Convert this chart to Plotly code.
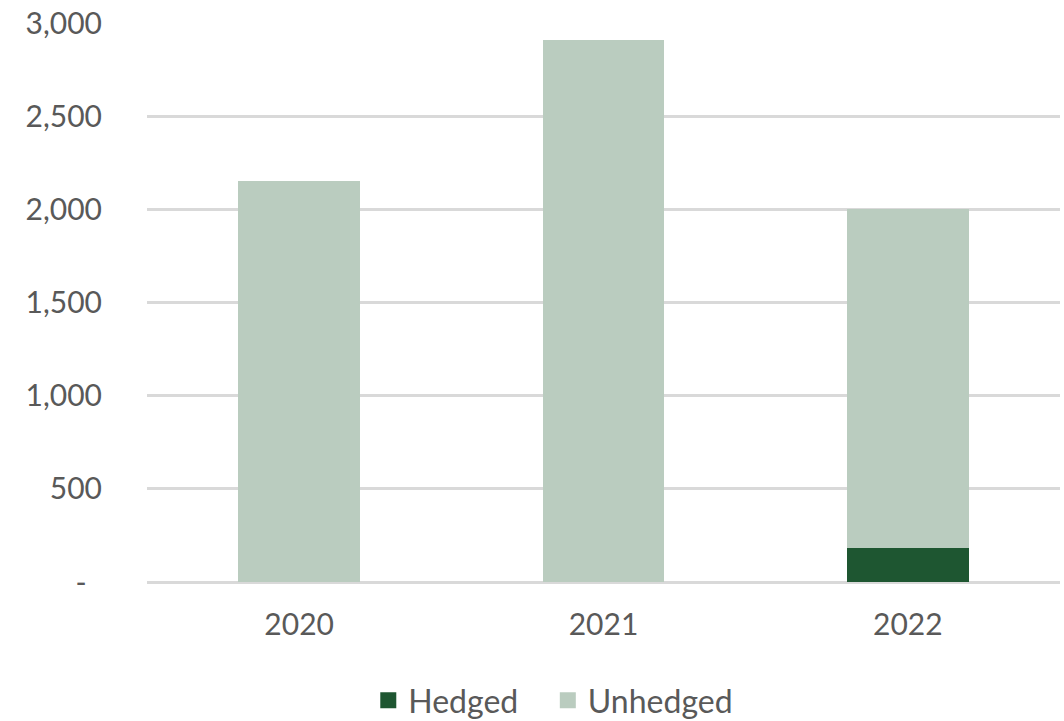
import plotly.graph_objects as go

years = ["2020", "2021", "2022"]
hedged = [0, 0, 180]
unhedged = [2150, 2910, 1820]
tick_vals = [0, 500, 1000, 1500, 2000, 2500, 3000]
tick_text = ["-\u00a0\u00a0", "500", "1,000", "1,500", "2,000", "2,500", "3,000"]

font_color = "#595959"
c_hedged = "#1E5631"
c_unhedged = "#BACCBF"

fig = go.Figure()
fig.add_trace(go.Bar(name="Hedged", x=years, y=hedged, marker_color=c_hedged,
                     marker_line_width=0, showlegend=False))
fig.add_trace(go.Bar(name="Unhedged", x=years, y=unhedged, marker_color=c_unhedged,
                     marker_line_width=0, showlegend=False))
# legend entries with larger square symbols
fig.add_trace(go.Scatter(name="Hedged\u00a0\u00a0\u00a0", x=[None], y=[None], mode="markers",
                         marker=dict(symbol="square", size=17, color=c_hedged)))
fig.add_trace(go.Scatter(name="Unhedged", x=[None], y=[None], mode="markers",
                         marker=dict(symbol="square", size=17, color=c_unhedged)))

fig.update_layout(
    width=1064, height=721,
    barmode="stack", bargap=0.6,
    plot_bgcolor="white", paper_bgcolor="white",
    margin=dict(l=147, r=4, t=23, b=139, autoexpand=False),
    font=dict(family="Lato", size=30, color=font_color),
    showlegend=True,
    legend=dict(orientation="h", x=0.445, xanchor="center", y=-0.212, yanchor="middle",
                font=dict(size=32, color=font_color), itemwidth=30,
                traceorder="normal"),
    xaxis=dict(showgrid=False, showline=False, ticks="", ticklabelstandoff=22,
               type="category"),
    yaxis=dict(range=[0, 3000], tickvals=tick_vals, ticktext=tick_text,
               showgrid=True, gridcolor="#D9D9D9", gridwidth=3,
               zeroline=True, zerolinecolor="#D9D9D9", zerolinewidth=3,
               ticks="", ticklabelstandoff=44),
)
fig.write_html("out.html")
